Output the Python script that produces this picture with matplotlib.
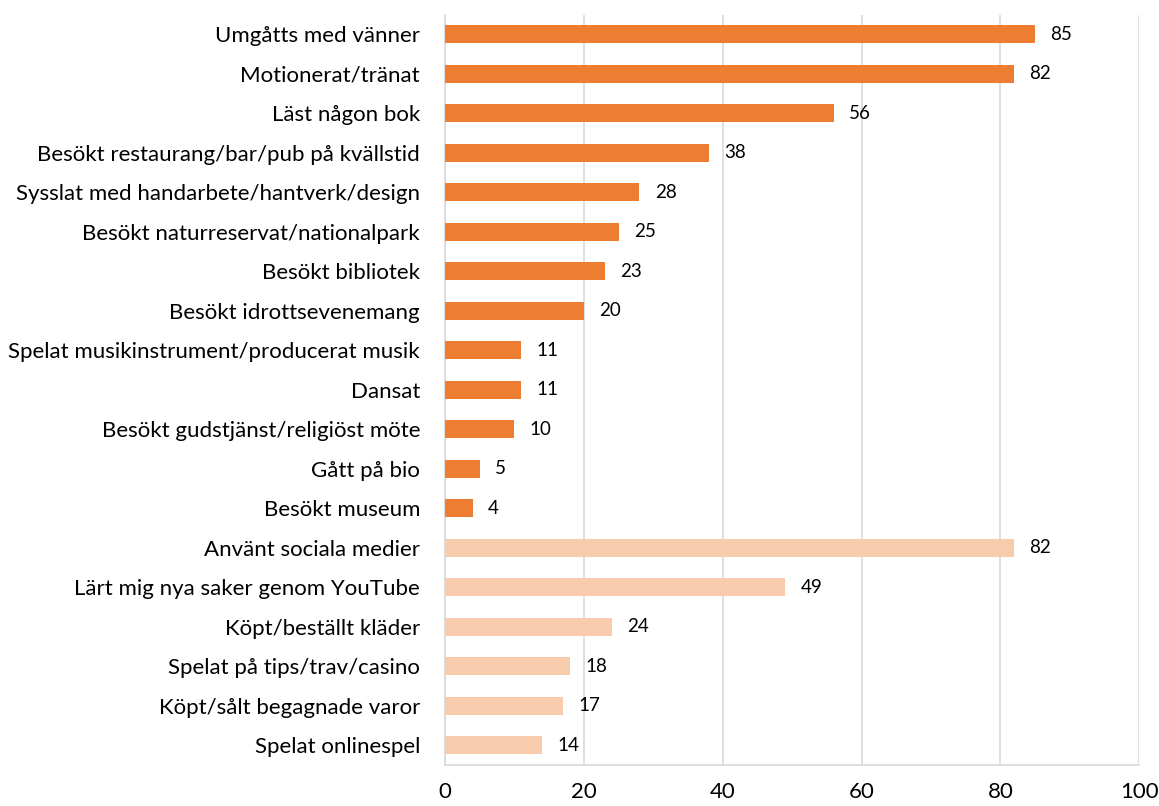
import matplotlib.pyplot as plt

categories = [
    "Umgåtts med vänner",
    "Motionerat/tränat",
    "Läst någon bok",
    "Besökt restaurang/bar/pub på kvällstid",
    "Sysslat med handarbete/hantverk/design",
    "Besökt naturreservat/nationalpark",
    "Besökt bibliotek",
    "Besökt idrottsevenemang",
    "Spelat musikinstrument/producerat musik",
    "Dansat",
    "Besökt gudstjänst/religiöst möte",
    "Gått på bio",
    "Besökt museum",
    "Använt sociala medier",
    "Lärt mig nya saker genom YouTube",
    "Köpt/beställt kläder",
    "Spelat på tips/trav/casino",
    "Köpt/sålt begagnade varor",
    "Spelat onlinespel",
]
values = [85, 82, 56, 38, 28, 25, 23, 20, 11, 11, 10, 5, 4, 82, 49, 24, 18, 17, 14]
# first 13 are activities outside, the rest online
group = ["offline"] * 13 + ["online"] * 6

colors = {"offline": "#ED7D31", "online": "#F8CBAD"}

plt.rcParams["font.family"] = ["Lato", "DejaVu Sans"]

fig = plt.figure(figsize=(11.59, 8.06), dpi=100)
ax = fig.add_axes([0.384, 0.051, 0.599, 0.931])

pos = list(range(len(categories)))
ax.barh(pos, values, height=0.45, color=[colors[g] for g in group], zorder=3)
for y, v in zip(pos, values):
    ax.text(v + 2.2, y, str(v), va="center", ha="left", fontsize=13.5, color="#000000")

ax.set_yticks(pos)
ax.set_yticklabels(categories, fontsize=16)
ax.set_ylim(len(categories) - 0.5, -0.5)
ax.set_xlim(0, 100)
ax.set_xticks(range(0, 101, 20))
ax.tick_params(axis="x", labelsize=16, pad=12, length=0)
ax.tick_params(axis="y", length=0, pad=18)
ax.grid(axis="x", color="#D9D9D9", linewidth=1.2, zorder=0)

for side in ["top", "right"]:
    ax.spines[side].set_visible(False)
ax.spines["left"].set_color("#D9D9D9")
ax.spines["left"].set_linewidth(1.2)
ax.spines["bottom"].set_color("#D9D9D9")
ax.spines["bottom"].set_linewidth(1.2)

fig.savefig("out.png", dpi=100)
